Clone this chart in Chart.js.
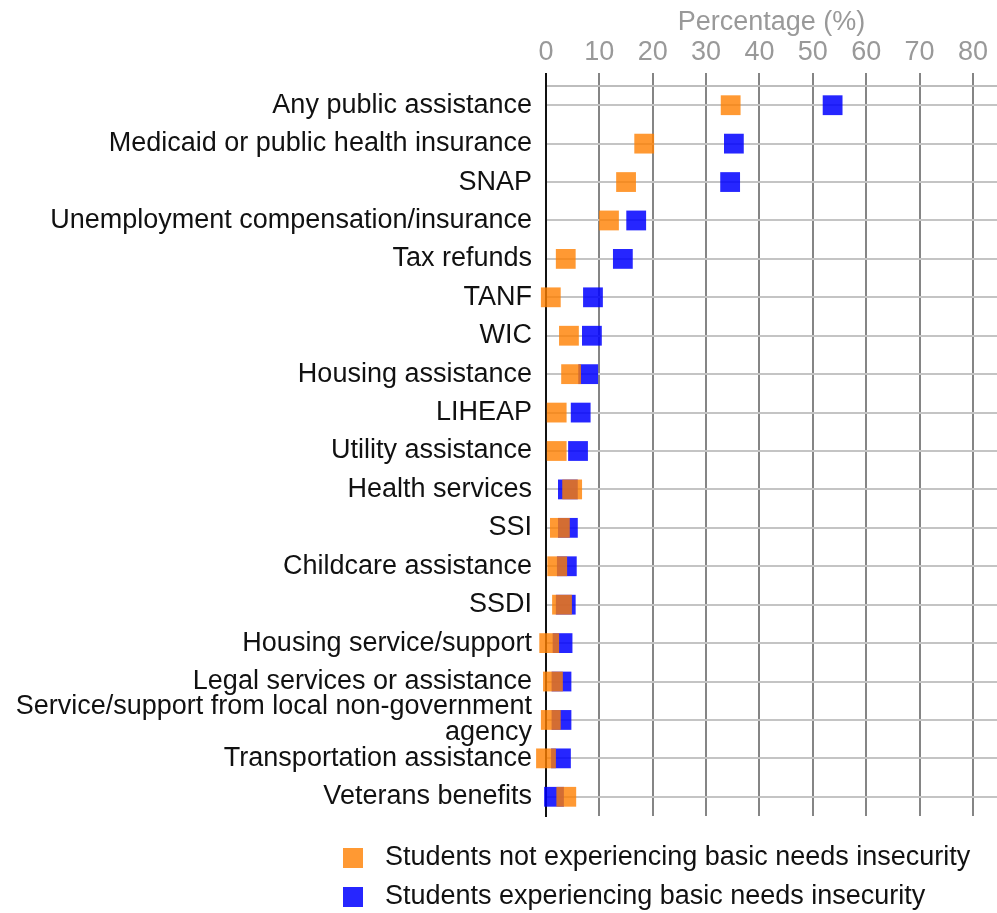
<!DOCTYPE html>
<html>
<head>
<meta charset="utf-8">
<script src="https://cdn.jsdelivr.net/npm/chart.js@4.4.0/dist/chart.umd.min.js"></script>
<style>
  html, body { margin: 0; padding: 0; background: #fff; }
  #wrap { width: 997px; height: 913px; }
</style>
</head>
<body>
<div id="wrap"><canvas id="chart" width="997" height="913"></canvas></div>
<script>
// categories, top to bottom
const categories = [
  'Any public assistance',
  'Medicaid or public health insurance',
  'SNAP',
  'Unemployment compensation/insurance',
  'Tax refunds',
  'TANF',
  'WIC',
  'Housing assistance',
  'LIHEAP',
  'Utility assistance',
  'Health services',
  'SSI',
  'Childcare assistance',
  'SSDI',
  'Housing service/support',
  'Legal services or assistance',
  ['Service/support from local non-government', 'agency'],
  'Transportation assistance',
  'Veterans benefits'
];

// percentages
const notInsecure = [34.6, 18.4, 15.0, 11.8, 3.7, 0.9, 4.3, 4.7, 2.0, 2.0, 4.9, 2.6, 2.1, 3.0, 0.6, 1.3, 0.9, 0.0, 3.8];
const insecure = [53.7, 35.2, 34.5, 16.9, 14.4, 8.8, 8.6, 7.9, 6.5, 6.0, 4.1, 4.1, 3.9, 3.7, 3.1, 2.9, 2.9, 2.8, 1.5];

const xTicks = [0, 10, 20, 30, 40, 50, 60, 70, 80];

const seriesNames = [
  'Students not experiencing basic needs insecurity',
  'Students experiencing basic needs insecurity'
];

const FONT = "'Liberation Sans', Arial, sans-serif";

// legend drawn by hand so both rows line up on the left
const stackedLegend = {
  id: 'stackedLegend',
  afterDraw(chart) {
    const ctx = chart.ctx;
    ctx.save();
    ctx.font = '27px ' + FONT;
    ctx.textBaseline = 'middle';
    ctx.textAlign = 'left';
    chart.data.datasets.forEach((ds, i) => {
      const y = 858 + i * 39;
      ctx.fillStyle = ds.backgroundColor;
      ctx.fillRect(343, y - 10, 20, 20);
      ctx.fillStyle = '#111';
      ctx.fillText(ds.label, 385, y);
    });
    ctx.restore();
  }
};

new Chart(document.getElementById('chart'), {
  type: 'line',
  data: {
    labels: categories,
    datasets: [
      {
        label: seriesNames[0],
        data: notInsecure,
        showLine: false,
        clip: false,
        pointStyle: 'rect',
        pointRadius: 14,
        pointHoverRadius: 14,
        pointBorderWidth: 0,
        backgroundColor: 'rgba(255,127,0,0.8)',
        borderColor: 'rgba(255,127,0,0.8)'
      },
      {
        label: seriesNames[1],
        data: insecure,
        showLine: false,
        clip: false,
        pointStyle: 'rect',
        pointRadius: 14,
        pointHoverRadius: 14,
        pointBorderWidth: 0,
        backgroundColor: 'rgba(0,0,255,0.85)',
        borderColor: 'rgba(0,0,255,0.85)'
      }
    ]
  },
  options: {
    indexAxis: 'y',
    responsive: false,
    animation: false,
    layout: { autoPadding: false, padding: { top: 0, right: 0, bottom: 97, left: 0 } },
    plugins: {
      legend: { display: false },
      tooltip: { enabled: false }
    },
    scales: {
      x: {
        type: 'linear',
        position: 'top',
        min: 0,
        max: 84.5,
        afterBuildTicks: (scale) => {
          scale.ticks = xTicks.map(v => ({ value: v }));
        },
        afterFit: (scale) => {
          scale.height = 86;
          scale.paddingLeft = 0;
          scale.paddingRight = 0;
        },
        title: {
          display: true,
          text: 'Percentage (%)',
          color: '#999',
          font: { family: FONT, size: 27 },
          padding: { top: 6, bottom: 0 }
        },
        ticks: {
          color: '#999',
          font: { family: FONT, size: 27 },
          padding: 4
        },
        grid: {
          color: (c) => (c.tick && c.tick.value === 0 ? '#111' : '#858585'),
          lineWidth: 2,
          tickLength: 13
        },
        border: { color: '#bdbdbd', width: 2 }
      },
      y: {
        type: 'category',
        offset: true,
        afterFit: (scale) => {
          scale.width = 546;
          scale.paddingTop = 0;
          scale.paddingBottom = 0;
        },
        ticks: {
          color: '#111',
          font: { family: FONT, size: 27, lineHeight: 0.97 },
          padding: 14,
          autoSkip: false
        },
        grid: {
          offset: false,
          color: '#c4c4c4',
          lineWidth: 2,
          drawTicks: false
        },
        border: { color: '#111', width: 2 }
      }
    }
  },
  plugins: [stackedLegend]
});
</script>
</body>
</html>
